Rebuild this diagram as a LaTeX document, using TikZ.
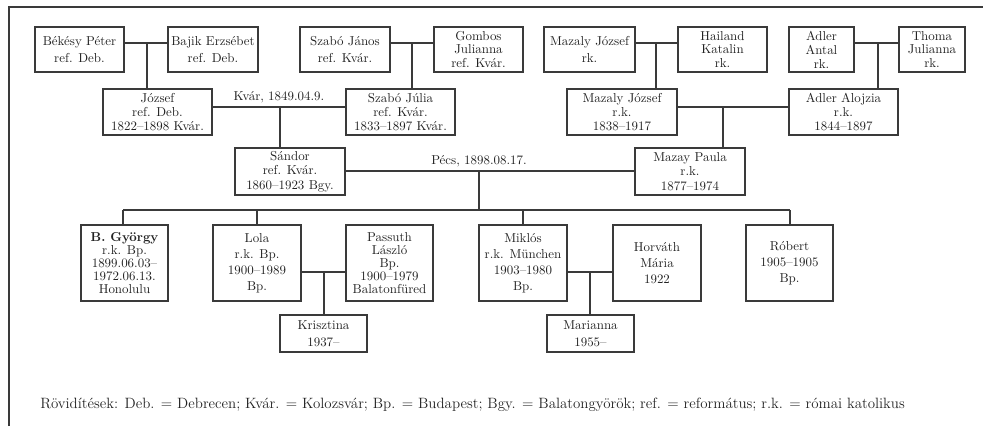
\documentclass[tikz,border=0pt]{standalone}
\usepackage{fontspec}
\definecolor{ink}{HTML}{3A3A3A}
\definecolor{txt}{HTML}{222222}
\newcommand\pbx[7]{\node[pbox, font=\fontsize{9.7}{#6}\selectfont, minimum width={(#4-#2)*0.75pt}, minimum height={(#5-#3)*0.75pt}] (#1) at ({(#2+#4)/2},{(#3+#5)/2}) {#7};}
\begin{document}
\begin{tikzpicture}[x=0.75pt,y=-0.75pt,
  pbox/.style={draw=ink, line width=0.8pt, inner sep=0pt, align=center, text=txt},
  conn/.style={draw=ink, line width=0.8pt},
  lbl/.style={inner sep=0pt, text=txt, font=\fontsize{9.7}{12}\selectfont}]
\useasboundingbox (0,0) rectangle (983,426);
% frame
\coordinate (f1) at (9,426); \coordinate (f2) at (9,7); \coordinate (f3) at (983,7);
\draw[conn] (f1) -- (f2) -- (f3);
% top row
\pbx{bekesy}{35}{27}{124}{72}{12.3pt}{Békésy Péter\\ref. Deb.}
\pbx{bajik}{168}{27}{258}{72}{12.3pt}{Bajik Erzsébet\\ref. Deb.}
\pbx{szjanos}{300}{27}{390}{72}{12.3pt}{Szabó János\\ref. Kvár.}
\pbx{gombos}{434}{27}{523}{72}{10.4pt}{Gombos\\Julianna\\ref. Kvár.}
\pbx{mazaly}{544}{27}{635}{72}{12.3pt}{Mazaly József\\rk.}
\pbx{hailand}{678}{27}{767}{72}{10.4pt}{Hailand\\Katalin\\rk.}
\pbx{adlera}{789}{27}{854}{72}{10.4pt}{Adler\\Antal\\rk.}
\pbx{thoma}{899}{27}{965}{72}{10.4pt}{Thoma\\Julianna\\rk.}
% second row
\pbx{jozsef}{103}{89}{212}{135}{10.6pt}{József\\ref. Deb.\\1822–1898 Kvár.}
\pbx{szjulia}{346}{89}{455}{135}{10.6pt}{Szabó Júlia\\ref. Kvár.\\1833–1897 Kvár.}
\pbx{mazalyb}{567}{89}{677}{135}{10.6pt}{Mazaly József\\r.k.\\1838–1917}
\pbx{alojzia}{789}{89}{898}{135}{10.6pt}{Adler Alojzia\\r.k.\\1844–1897}
% third row
\pbx{sandor}{235}{148}{345}{195}{10.9pt}{Sándor\\ref. Kvár.\\1860–1923 Bgy.}
\pbx{paula}{635}{148}{745}{195}{10.9pt}{Mazay Paula\\r.k.\\1877–1974}
% children
\pbx{gyorgy}{81}{225}{168}{301}{9.6pt}{\textbf{B. György}\\r.k. Bp.\\1899.06.03–\\1972.06.13.\\Honolulu}
\pbx{lola}{213}{225}{301}{301}{12pt}{Lola\\r.k. Bp.\\1900–1989\\Bp.}
\pbx{passuth}{346}{225}{433}{301}{9.8pt}{Passuth\\László\\Bp.\\1900–1979\\Balatonfüred}
\pbx{miklos}{479}{225}{567}{301}{12pt}{Miklós\\r.k. München\\1903–1980\\Bp.}
\pbx{horvath}{613}{225}{701}{301}{12pt}{Horváth\\Mária\\1922}
\pbx{robert}{746}{225}{833}{301}{12pt}{Róbert\\1905–1905\\Bp.}
\pbx{krisztina}{280}{315}{367}{352}{12.6pt}{Krisztina\\1937–}
\pbx{marianna}{547}{315}{634}{352}{12.6pt}{Marianna\\1955–}
% marriage connectors, top row
\coordinate (m1) at (147,43);
\draw[conn] (bekesy.east |- m1) -- (bajik.west |- m1);
\draw[conn] (m1) -- (m1 |- jozsef.north);
\coordinate (m2) at (412,43);
\draw[conn] (szjanos.east |- m2) -- (gombos.west |- m2);
\draw[conn] (m2) -- (m2 |- szjulia.north);
\coordinate (m3) at (656,43);
\draw[conn] (mazaly.east |- m3) -- (hailand.west |- m3);
\draw[conn] (m3) -- (m3 |- mazalyb.north);
\coordinate (m4) at (878,43);
\draw[conn] (adlera.east |- m4) -- (thoma.west |- m4);
\draw[conn] (m4) -- (m4 |- alojzia.north);
% second row
\coordinate (m5) at (280,107);
\draw[conn] (jozsef.east |- m5) -- (szjulia.west |- m5);
\draw[conn] (m5) -- (m5 |- sandor.north);
\node[lbl] (kvar) at (279,97) {Kvár, 1849.04.9.};
\coordinate (m6) at (723,107);
\draw[conn] (mazalyb.east |- m6) -- (alojzia.west |- m6);
\draw[conn] (m6) -- (m6 |- paula.north);
% third row
\coordinate (m7) at (479,171);
\draw[conn] (sandor.east |- m7) -- (paula.west |- m7);
\node[lbl] (pecs) at (479,161) {Pécs, 1898.08.17.};
\coordinate (s0) at (479,210);
\draw[conn] (m7) -- (s0);
\coordinate (s1) at (123,210); \coordinate (s2) at (257,210);
\coordinate (s3) at (523,210); \coordinate (s4) at (790,210);
\draw[conn] (s1) -- (s4);
\draw[conn] (s1) -- (s1 |- gyorgy.north);
\draw[conn] (s2) -- (s2 |- lola.north);
\draw[conn] (s3) -- (s3 |- miklos.north);
\draw[conn] (s4) -- (s4 |- robert.north);
% children marriages
\coordinate (m8) at (324,272);
\draw[conn] (lola.east |- m8) -- (passuth.west |- m8);
\draw[conn] (m8) -- (m8 |- krisztina.north);
\coordinate (m9) at (590,272);
\draw[conn] (miklos.east |- m9) -- (horvath.west |- m9);
\draw[conn] (m9) -- (m9 |- marianna.north);
% footer
\node[lbl, font=\fontsize{11.2}{13}\selectfont, anchor=base west] (foot) at (40,408) {Rövidítések: Deb. = Debrecen; Kvár. = Kolozsvár; Bp. = Budapest; Bgy. = Balatongyörök; ref. = református; r.k. = római katolikus};
\end{tikzpicture}
\end{document}
